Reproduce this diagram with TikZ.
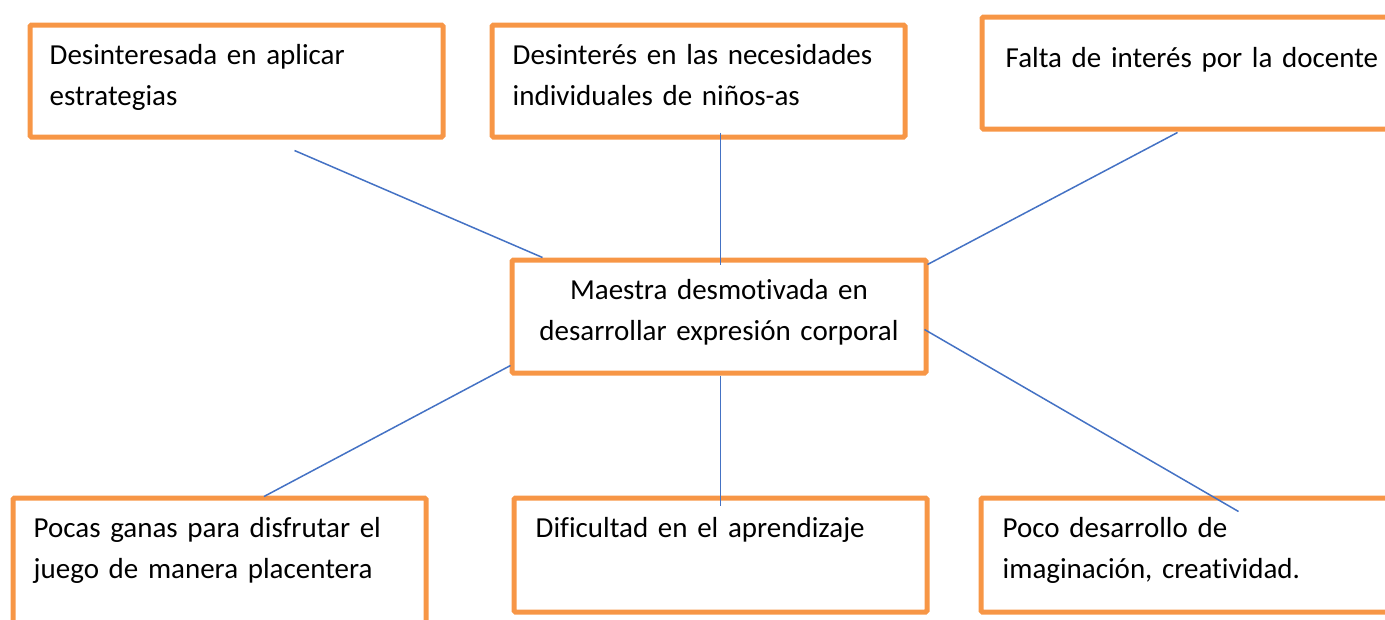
\documentclass[tikz,border=0pt]{standalone}
\usepackage{fontspec}
\setmainfont{Carlito}[Ligatures={NoCommon}]
\usepackage{tikz}
\usetikzlibrary{positioning, calc}
\usepackage{xcolor}
\definecolor{boxorange}{RGB}{247, 150, 70}
\definecolor{linkblue}{RGB}{68, 114, 196}

\tikzset{
  causebox/.style={draw=boxorange, line width=5pt, rounded corners=1.5pt,
                   minimum width=413pt, minimum height=112pt, inner sep=0pt,
                   anchor=north west},
  causetext/.style={inner sep=0pt, text width=390pt, align=left,
                    anchor=base west, font=\fontsize{29}{41}\selectfont},
  link/.style={draw=linkblue, line width=1.5pt}
}

\begin{document}
\begin{tikzpicture}[x=1pt, y=-1pt]
  \useasboundingbox (0,0) rectangle (1385,619);
  \clip (0,0) rectangle (1385,619);

  % boxes
  \node[causebox] (tl) at (27.5,22.5) {};
  \node[causebox] (tm) at (489.5,22.5) {};
  \node[causebox] (tr) at (979.5,14.5) {};
  \node[causebox, minimum width=414pt, minimum height=113pt] (c) at (509.5,257.5) {};
  \node[causebox, minimum height=140pt] (bl) at (10.5,495.5) {};
  \node[causebox, minimum height=114pt] (bm) at (511.5,495.5) {};
  \node[causebox, minimum height=114pt] (br) at (978.5,495.5) {};

  % texts
  \node[causetext] (tltext) at ([shift={(22pt,-42pt)}]tl.north west)
    {Desinteresada en aplicar\\estrategias};
  \node[causetext] (tmtext) at ([shift={(23pt,-42pt)}]tm.north west)
    {Desinterés en las necesidades\\individuales de niños-as};
  \node[causetext] (trtext) at ([shift={(26pt,-53pt)}]tr.north west)
    {Falta de interés por la docente};
  \node[causetext, text width=414pt, align=center, anchor=base] (ctext)
    at ([yshift=-42pt]c.north)
    {Maestra desmotivada en\\desarrollar expresión corporal};
  \node[causetext] (bltext) at ([shift={(23pt,-42pt)}]bl.north west)
    {Pocas ganas para disfrutar el\\juego de manera placentera};
  \node[causetext] (bmtext) at ([shift={(24pt,-42pt)}]bm.north west)
    {Dificultad en el aprendizaje};
  \node[causetext] (brtext) at ([shift={(24pt,-42pt)}]br.north west)
    {Poco desarrollo de\\imaginación, creatividad.};

  % connectors
  \draw[link] ([shift={(58pt,-11pt)}]tl.south) -- ([xshift=33pt]c.north west);
  \draw[link] ([xshift=1.5pt,yshift=7pt]tm.south -| c.north) -- ([shift={(1.5pt,-7pt)}]c.north);
  \draw[link] ([shift={(-11pt,-1pt)}]tr.south) -- ([shift={(-1pt,-7pt)}]c.north east);
  \draw[link] ([shift={(1pt,10pt)}]c.south west) -- ([shift={(44.5pt,-1pt)}]bl.north);
  \draw[link] ([xshift=1.5pt]c.south) -- ([shift={(1.5pt,-10pt)}]bm.north -| c.south);
  \draw[link] ([shift={(-4pt,-13pt)}]c.east) -- ([shift={(260pt,-16pt)}]br.north west);
\end{tikzpicture}
\end{document}
